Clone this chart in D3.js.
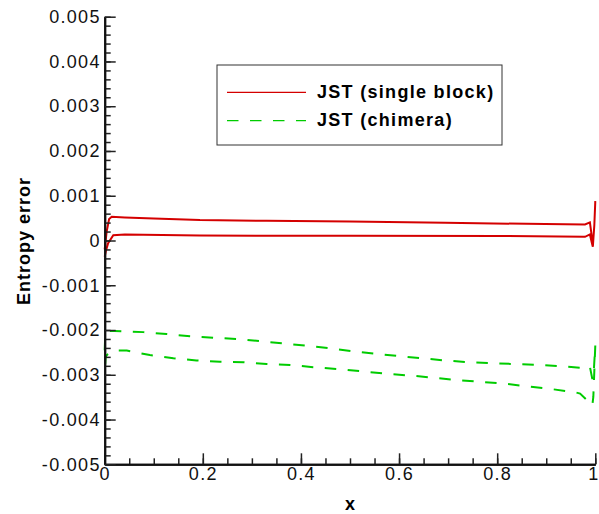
<!DOCTYPE html>
<html>
<head>
<meta charset="utf-8">
<script src="https://cdn.jsdelivr.net/npm/d3@7"></script>
<style>
  body { margin: 0; background: #fff; }
  text { font-family: "Liberation Sans", Arial, Helvetica, sans-serif; }
</style>
</head>
<body>
<script>
    //Declare consts/global variables
        const width = 599;
        const height = 514;

    //Data - [x, entropy error]
        // JST single block: upper curve (x 0 -> 1)
        const singleUpper = [
            [0, -0.0002], [0.004, 0.0002], [0.009, 0.00048], [0.0143, 0.00053], [0.041, 0.000516],
            [0.1, 0.00049], [0.194, 0.000456], [0.33, 0.00044], [0.5, 0.000427], [0.694, 0.000396],
            [0.898, 0.000366], [0.979, 0.00036], [0.989, 0.000405], [0.994, 0.0], [0.995, -0.00014],
            [0.998, 0.00034], [1.0, 0.00088]
        ];
        // JST single block: lower curve (x 0 -> 1)
        const singleLower = [
            [0, -0.00036], [0.003, -0.00021], [0.007, -0.00006], [0.0175, 0.00012], [0.041, 0.000136],
            [0.194, 0.00011], [0.5, 0.000105], [0.806, 0.0001], [0.979, 0.000083], [0.989, 0.000136],
            [0.994, -0.0001], [0.995, -0.00014], [0.998, 0.00034], [1.0, 0.00088]
        ];
        // JST chimera: upper curve
        const chimeraUpper = [
            [0, -0.00245], [0.001, -0.00215], [0.003, -0.00202], [0.02, -0.00202], [0.079, -0.002047],
            [0.126, -0.00209], [0.174, -0.00214], [0.221, -0.00217], [0.269, -0.0022], [0.317, -0.00225],
            [0.364, -0.0023], [0.412, -0.00235], [0.459, -0.00241], [0.503, -0.00247], [0.551, -0.00253],
            [0.598, -0.00258], [0.646, -0.00263], [0.694, -0.00268], [0.741, -0.00272], [0.789, -0.00274],
            [0.836, -0.00276], [0.884, -0.00278], [0.932, -0.00281], [0.976, -0.00285], [0.989, -0.00282],
            [0.994, -0.0031], [0.997, -0.0029], [1.0, -0.00234]
        ];
        // JST chimera: lower curve
        const chimeraLower = [
            [0, -0.00293], [0.002, -0.0026], [0.005, -0.00255], [0.02, -0.00246], [0.045, -0.00246],
            [0.092, -0.00256], [0.14, -0.00263], [0.187, -0.00268], [0.235, -0.00271], [0.283, -0.00272],
            [0.33, -0.00276], [0.378, -0.00278], [0.425, -0.00283], [0.473, -0.00287], [0.53, -0.00293],
            [0.578, -0.00298], [0.626, -0.00302], [0.673, -0.00307], [0.721, -0.00312], [0.768, -0.00316],
            [0.816, -0.0032], [0.863, -0.00326], [0.911, -0.00332], [0.959, -0.00339], [0.969, -0.00342],
            [0.994, -0.00368], [0.996, -0.00349], [1.0, -0.00234]
        ];

        const seriesNames = ["JST (single block)", "JST (chimera)"];
        const seriesColors = ["#d40000", "#00cc00"];

        const xTicks = [0, 0.2, 0.4, 0.6, 0.8, 1];
        const xMinorTicks = d3.range(0, 21).map(i => i * 0.05);
        const yTicks = d3.range(-5, 6).map(i => i * 0.001);
        const yMinorTicks = d3.range(-25, 26).map(i => i * 0.0002);

    //Scales
        const xScale = d3.scaleLinear()
                        .domain([0, 1])
                        .range([104.7, 595.3]);

        const yScale = d3.scaleLinear()
                        .domain([-0.005, 0.005])
                        .range([464.3, 16.7]);

    //SVG
        const svg = d3.select("body")
                    .append("svg")
                    .attr("width", width)
                    .attr("height", height);

    //Lines - each series drawn as one loop: upper 0->1, then lower back 1->0
        const line = d3.line()
                       .x(d => xScale(d[0]))
                       .y(d => yScale(d[1]));

        svg.append("path")
            .attr("d", line(singleUpper.concat(singleLower.slice().reverse())))
            .attr("fill", "none")
            .attr("stroke", seriesColors[0])
            .attr("stroke-width", 2);

        svg.append("path")
            .attr("d", line(chimeraUpper.concat(chimeraLower.slice().reverse())))
            .attr("fill", "none")
            .attr("stroke", seriesColors[1])
            .attr("stroke-width", 2)
            .attr("stroke-dasharray", "11.5,11.5");

    //Axes
        const fmtY = d => Math.abs(d) < 1e-12 ? "0" : d.toFixed(3);
        const fmtX = d => (d === 0 || d === 1) ? String(d) : d.toFixed(1);

        const bottomMinor = d3.axisBottom(xScale).tickValues(xMinorTicks)
                              .tickSize(-6).tickSizeOuter(0).tickFormat("");
        const bottomAxis = d3.axisBottom(xScale).tickValues(xTicks)
                             .tickSize(-11).tickSizeOuter(0).tickPadding(3).tickFormat(fmtX);
        const leftMinor = d3.axisLeft(yScale).tickValues(yMinorTicks)
                            .tickSize(-6).tickSizeOuter(0).tickFormat("");
        const leftAxis = d3.axisLeft(yScale).tickValues(yTicks)
                           .tickSize(-11).tickSizeOuter(0).tickPadding(4).tickFormat(fmtY);

        const gx = svg.append("g").attr("transform", "translate(0," + yScale(-0.005) + ")");
        gx.append("g").call(bottomMinor);
        gx.append("g").call(bottomAxis);

        const gy = svg.append("g").attr("transform", "translate(" + xScale(0) + ",0)");
        gy.append("g").call(leftMinor);
        gy.append("g").call(leftAxis);

        svg.selectAll(".domain").attr("stroke", "#111").attr("stroke-width", 2);
        svg.selectAll(".tick line").attr("stroke", "#222").attr("stroke-width", 1.5);
        svg.selectAll(".tick text")
            .attr("fill", "#111")
            .style("font-size", "18px")
            .style("letter-spacing", "1.3px")
            .style("font-family", "'Liberation Sans', Arial, sans-serif");

        // last x label sits at the window edge, keep it inside
        gx.selectAll(".tick text").filter(d => d === 1).attr("dx", "-2");

    //Axis titles
        svg.append("text")
            .attr("transform", "translate(30,241) rotate(-90)")
            .attr("text-anchor", "middle")
            .style("font-size", "18px")
            .style("font-weight", "bold")
            .style("letter-spacing", "1px")
            .text("Entropy error");

        svg.append("text")
            .attr("x", xScale(0.5))
            .attr("y", 510)
            .attr("text-anchor", "middle")
            .style("font-size", "18px")
            .style("font-weight", "bold")
            .text("x");

    //Legend
        const legend = svg.append("g");
        legend.append("rect")
            .attr("x", 217).attr("y", 65)
            .attr("width", 285).attr("height", 80)
            .attr("fill", "#fff")
            .attr("stroke", "#333")
            .attr("stroke-width", 1);

        seriesNames.forEach((name, i) => {
            const ly = 92.3 + i * 28.4;
            legend.append("line")
                .attr("x1", 227).attr("x2", 306)
                .attr("y1", ly).attr("y2", ly)
                .attr("stroke", seriesColors[i])
                .attr("stroke-width", 1.2)
                .attr("stroke-dasharray", i === 1 ? "11.5,11.5" : null);
            legend.append("text")
                .attr("x", 317)
                .attr("y", ly + 5.5)
                .style("font-size", "18px")
                .style("font-weight", "bold")
                .style("letter-spacing", "1.3px")
                .text(name);
        });
</script>
</body>
</html>
